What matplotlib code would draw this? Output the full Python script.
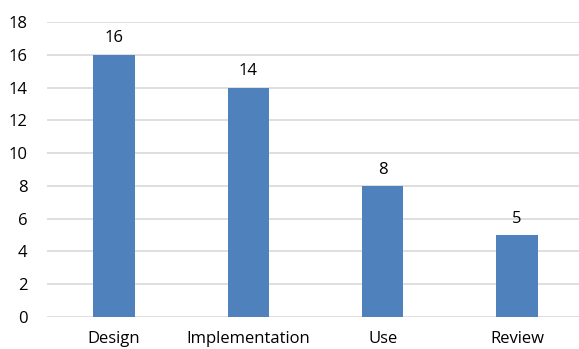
import matplotlib
matplotlib.use("Agg")
import matplotlib.pyplot as plt

# --- Data ---
categories = ["Design", "Implementation", "Use", "Review"]
counts = [16, 14, 8, 5]
y_ticks = list(range(0, 20, 2))

BAR_COLOR = "#4F81BD"
GRID_COLOR = "#D9D9D9"

plt.rcParams['font.family'] = ['Open Sans', 'DejaVu Sans']

W, H = 579, 349
fig = plt.figure(figsize=(W / 100, H / 100), dpi=100)
ax = fig.add_axes([47 / W, (H - 317) / H, (584 - 47) / W, (317 - 22) / H])

x = range(len(categories))
bars = ax.bar(x, counts, width=0.31, color=BAR_COLOR, zorder=3)

for bar, v in zip(bars, counts):
    ax.annotate(str(v), (bar.get_x() + bar.get_width() / 2, v),
                xytext=(0, 6), textcoords="offset points",
                ha="center", va="bottom", fontsize=12, color="#000000")

ax.set_xlim(-0.5, 3.5)
ax.set_ylim(0, 18)
ax.set_yticks(y_ticks)
ax.set_xticks(list(x))
ax.set_xticklabels(categories)
ax.grid(axis="y", color=GRID_COLOR, linewidth=1.2, zorder=0)
for s in ax.spines.values():
    s.set_visible(False)
ax.tick_params(axis="both", length=0, labelsize=12, colors="#000000")
ax.tick_params(axis="y", pad=14)
ax.tick_params(axis="x", pad=10)

fig.savefig("out.png", dpi=100)
